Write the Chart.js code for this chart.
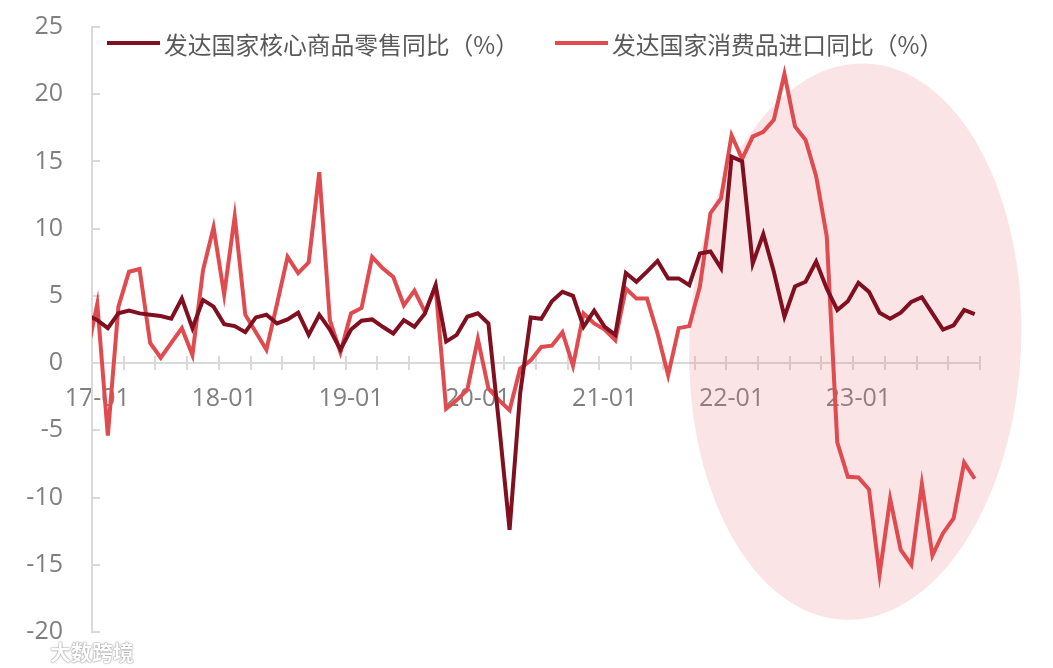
<!DOCTYPE html>
<html>
<head>
<meta charset="utf-8">
<script src="https://cdn.jsdelivr.net/npm/chart.js@4.4.1/dist/chart.umd.min.js"></script>
<style>
  html, body { margin: 0; padding: 0; background: #fff; }
  #wrap { position: relative; width: 1053px; height: 668px; overflow: hidden; }
  #chart { position: absolute; left: 0; top: 0; }
  .lg { position: absolute; top: 28px; height: 30px; display: flex; align-items: center;
        font: 23.8px 'Noto Sans CJK SC', sans-serif; color: #595959; white-space: nowrap; }
  .lg i { display: inline-block; width: 53px; height: 4px; margin-right: 4px; }
  .wm { position: absolute; left: 50px; top: 636px; font: bold 21px 'Noto Sans CJK SC', sans-serif;
        color: #fff; text-shadow: 0 0 2px #8c8c8c, 0 0 1px #8c8c8c; }
</style>
</head>
<body>
<div id="wrap">
  <canvas id="chart" width="1053" height="668"></canvas>
  <div class="lg" id="lg1" style="left:107px"></div>
  <div class="lg" id="lg2" style="left:555px"></div>
  <div class="wm">大数跨境</div>
</div>
<script>
// 月份：16-12 只用来画出左边被裁掉的一小段线
const months = [];
for (let yr = 16; yr <= 23; yr++) {
    for (let m = 1; m <= 12; m++) {
        if (yr === 16 && m < 12) continue;
        months.push(yr + '-' + String(m).padStart(2, '0'));
    }
}

const seriesNames = ['发达国家核心商品零售同比（%）', '发达国家消费品进口同比（%）'];
const seriesColors = ['#800F1F', '#DF4B4F'];

const coreRetail = [3.6,
    3.2, 2.6, 3.7, 3.9, 3.7, 3.6, 3.5, 3.3, 4.8, 2.6, 4.7, 4.2,
    2.9, 2.75, 2.3, 3.4, 3.6, 2.95, 3.25, 3.75, 2.1, 3.6, 2.5, 1.0,
    2.5, 3.15, 3.25, 2.7, 2.2, 3.2, 2.7, 3.7, 5.8, 1.6, 2.1, 3.45,
    3.7, 2.95, -4.5, -12.4, -2.25, 3.4, 3.3, 4.6, 5.3, 5.0, 2.7, 3.9,
    2.7, 2.1, 6.7, 6.05, 6.8, 7.6, 6.3, 6.3, 5.8, 8.15, 8.3, 7.05,
    15.35, 15.0, 7.4, 9.6, 6.8, 3.45, 5.7, 6.05, 7.55, 5.55, 3.95, 4.6,
    5.97, 5.3, 3.75, 3.3, 3.75, 4.55, 4.9, 3.7, 2.5, 2.8, 3.95, 3.65];

const consumerImports = [0.6,
    4.4, -5.4, 4.2, 6.8, 7.0, 1.5, 0.4, 1.5, 2.6, 0.6, 6.9, 10.1,
    5.1, 10.9, 3.6, 2.3, 1.0, 4.4, 7.9, 6.7, 7.5, 14.2, 3.2, 0.8,
    3.7, 4.1, 7.9, 7.05, 6.4, 4.3, 5.4, 3.8, 5.7, -3.4, -2.75, -2.0,
    1.8, -1.9, -2.75, -3.5, -0.4, 0.2, 1.2, 1.3, 2.3, -0.2, 3.7, 2.95,
    2.5, 1.7, 5.55, 4.8, 4.8, 2.2, -0.9, 2.6, 2.75, 5.7, 11.15, 12.25,
    16.95, 15.2, 16.85, 17.2, 18.1, 21.5, 17.6, 16.6, 13.9, 9.45, -5.9, -8.45,
    -8.5, -9.4, -15.7, -10.1, -13.9, -15.0, -9.0, -14.3, -12.65, -11.55, -7.4, -8.6];

const yMin = -20;
const yMax = 25;
const yStep = 5;

// 高亮椭圆（数据坐标：月份序号 / 数值）
const ellipseCenterIdx = 72.7;
const ellipseCenterVal = 1.6;
const ellipseRadiusIdx = 15.7;
const ellipseRadiusVal = 20.7;

const axisColor = '#d9d9d9';
const tickColor = '#7f7f7f';
const tickFont = { family: "'Open Sans', 'Noto Sans CJK SC', sans-serif", size: 25 };

// 图例
[document.getElementById('lg1'), document.getElementById('lg2')].forEach((el, k) => {
    el.innerHTML = `<i style="background:${seriesColors[k]}"></i>${seriesNames[k]}`;
});

const decor = {
    id: 'decor',
    beforeDatasetsDraw(chart) {
        const { ctx, chartArea, scales: { x, y } } = chart;
        const y0 = y.getPixelForValue(0);
        ctx.save();
        ctx.strokeStyle = axisColor;
        ctx.lineWidth = 2;
        // x 轴刻度：每三个月一条
        for (let k = 1; k <= months.length; k += 3) {
            const px = Math.round(x.getPixelForValue(k - 0.5));
            ctx.beginPath();
            ctx.moveTo(px, y0 - 7);
            ctx.lineTo(px, y0 + 7);
            ctx.stroke();
        }
        // y 轴刻度朝内
        for (let v = yMin; v <= yMax; v += yStep) {
            const py = Math.round(y.getPixelForValue(v));
            ctx.beginPath();
            ctx.moveTo(chartArea.left, py);
            ctx.lineTo(chartArea.left + 8, py);
            ctx.stroke();
        }
        // 椭圆
        const cx = x.getPixelForValue(ellipseCenterIdx);
        const cy = y.getPixelForValue(ellipseCenterVal);
        const rx = x.getPixelForValue(ellipseCenterIdx + ellipseRadiusIdx) - cx;
        const ry = cy - y.getPixelForValue(ellipseCenterVal + ellipseRadiusVal);
        ctx.fillStyle = 'rgba(232, 120, 130, 0.2)';
        ctx.beginPath();
        ctx.ellipse(cx, cy, rx, ry, 0.04, 0, Math.PI * 2);
        ctx.fill();
        ctx.restore();
    }
};

const ctx = document.getElementById('chart').getContext('2d');
new Chart(ctx, {
    type: 'line',
    data: {
        labels: months,
        datasets: [{
            label: seriesNames[0],
            data: coreRetail,
            borderColor: seriesColors[0],
            backgroundColor: seriesColors[0],
            borderWidth: 4,
            pointRadius: 0,
            tension: 0
        }, {
            label: seriesNames[1],
            data: consumerImports,
            borderColor: seriesColors[1],
            backgroundColor: seriesColors[1],
            borderWidth: 4,
            pointRadius: 0,
            tension: 0
        }]
    },
    options: {
        responsive: false,
        animation: false,
        layout: { padding: { left: 0, right: 73, top: 27, bottom: 36 } },
        plugins: {
            legend: { display: false },
            tooltip: { enabled: false }
        },
        scales: {
            x: {
                type: 'category',
                min: '17-01',
                offset: true,
                position: { y: 0 },
                grid: { display: false, drawTicks: false },
                border: { display: true, color: axisColor, width: 2 },
                ticks: {
                    autoSkip: false,
                    maxRotation: 0,
                    padding: 21,
                    color: tickColor,
                    font: tickFont,
                    callback: function (value) {
                        const lbl = this.getLabelForValue(value);
                        return lbl.endsWith('-01') ? lbl : '';
                    }
                }
            },
            y: {
                min: yMin,
                max: yMax,
                // 刻度线设为透明，只用来把数字推离轴线
                grid: { display: true, drawOnChartArea: false, drawTicks: true, tickLength: 29, tickColor: 'rgba(0,0,0,0)' },
                border: { display: true, color: axisColor, width: 2 },
                ticks: { stepSize: yStep, padding: 0, color: tickColor, font: tickFont },
                afterFit: function (scale) { scale.width = 92; }
            }
        }
    },
    plugins: [decor]
});
</script>
</body>
</html>
